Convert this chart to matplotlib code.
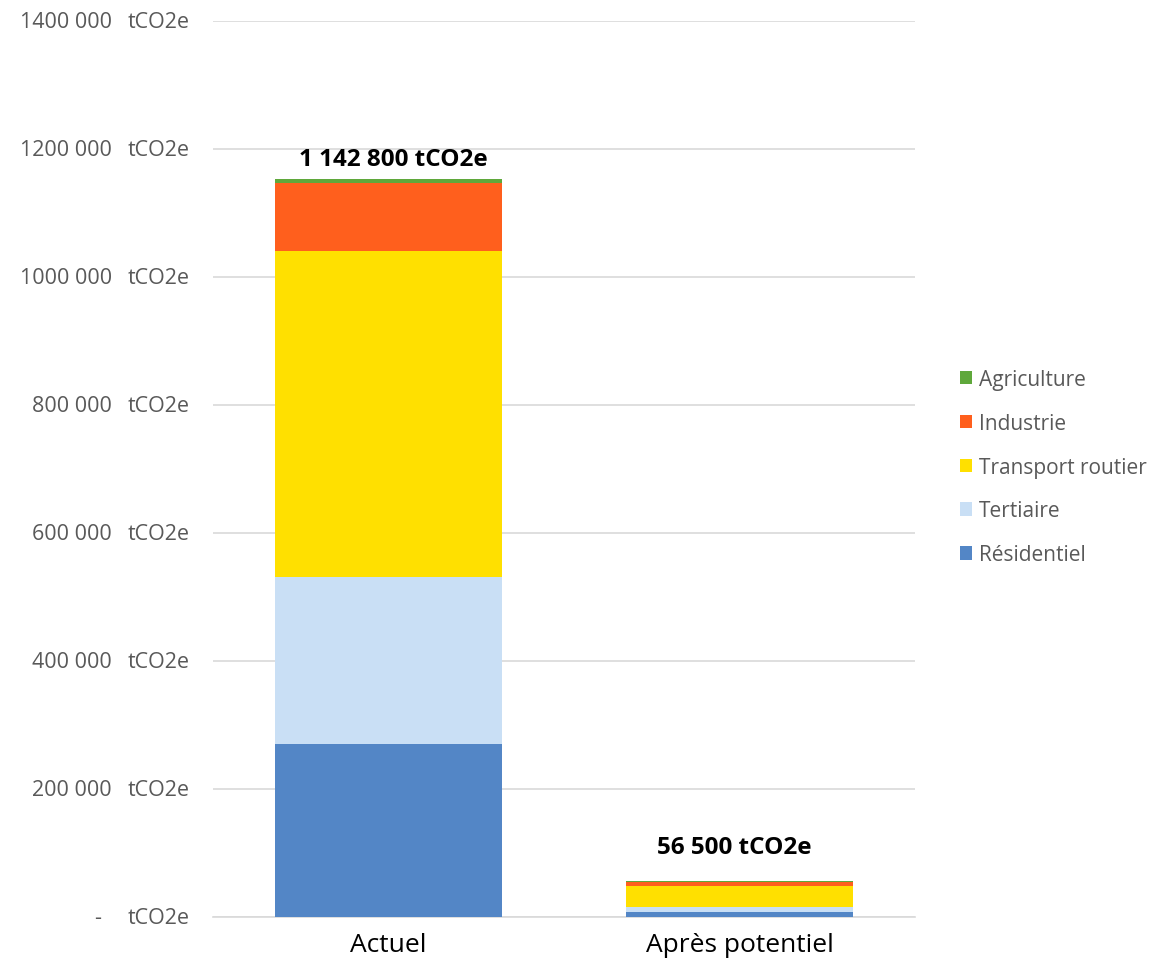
import numpy as np
import matplotlib.pyplot as plt

# donnees (tCO2e)
categories = ['Actuel', 'Après potentiel']
residentiel = [270300, 8300]
tertiaire = [261000, 7800]
transport = [509800, 32800]
industrie = [105800, 5300]
agriculture = [6250, 2000]
totaux = ['1 142 800 tCO2e', '56 500 tCO2e']

yticks = [0, 200000, 400000, 600000, 800000, 1000000, 1200000, 1400000]
ytick_labels = ['-', '200 000', '400 000', '600 000', '800 000',
                '1000 000', '1200 000', '1400 000']

series = [('Résidentiel', residentiel, '#5386C6'),
          ('Tertiaire', tertiaire, '#C9DFF5'),
          ('Transport routier', transport, '#FFE000'),
          ('Industrie', industrie, '#FF5F1D'),
          ('Agriculture', agriculture, '#5FA83B')]

plt.rcParams['font.family'] = ['Open Sans', 'DejaVu Sans']

fig = plt.figure(figsize=(11.69, 9.62), dpi=100)
ax = fig.add_axes([0.182, 0.0457, 0.601, 0.9313])

x = np.arange(len(categories))
bottom = np.zeros(len(categories))
handles = []
for name, vals, col in series:
    b = ax.bar(x, vals, 0.647, bottom=bottom, color=col, label=name, zorder=3)
    handles.append(b)
    bottom = bottom + np.array(vals)

# etiquettes des totaux (deplacees a la main comme dans excel)
offsets = [(5, 20), (-5, 34)]
for i, lab in enumerate(totaux):
    ax.annotate(lab, (x[i], bottom[i]), xytext=offsets[i],
                textcoords='offset pixels', ha='center', va='center',
                fontsize=17.5, fontweight='bold', color='black')

ax.set_xlim(-0.5, 1.5)
ax.set_ylim(0, 1400000)
ax.set_yticks(yticks)
ax.set_yticklabels([])
for v, lab in zip(yticks, ytick_labels):
    # le tiret du zero est decale comme dans le format comptable excel
    dx = -112 if lab == '-' else -101
    ax.annotate(lab, (0, v), xycoords=('axes fraction', 'data'),
                xytext=(dx, 0), textcoords='offset pixels',
                ha='right', va='center', fontsize=15.5, color='#595959')
    ax.annotate('tCO2e', (0, v), xycoords=('axes fraction', 'data'),
                xytext=(-23, 0), textcoords='offset pixels',
                ha='right', va='center', fontsize=15.5, color='#595959')
ax.set_xticks(x)
ax.set_xticklabels(categories, fontsize=19, color='black')
ax.tick_params(axis='both', length=0)
ax.tick_params(axis='x', pad=11)
ax.grid(axis='y', color='#D9D9D9', lw=1.2, zorder=0)
for s in ['top', 'right', 'left']:
    ax.spines[s].set_visible(False)
ax.spines['bottom'].set_color('#D9D9D9')
ax.spines['bottom'].set_linewidth(1.2)

leg = fig.legend(handles[::-1], [s[0] for s in series][::-1],
                 loc='center left', bbox_to_anchor=(0.805, 0.5135),
                 frameon=False, fontsize=15, handlelength=0.6,
                 handleheight=0.6, handletextpad=0.3, labelspacing=1.1)
for t in leg.get_texts():
    t.set_color('#595959')

fig.savefig('out.png', dpi=100)
